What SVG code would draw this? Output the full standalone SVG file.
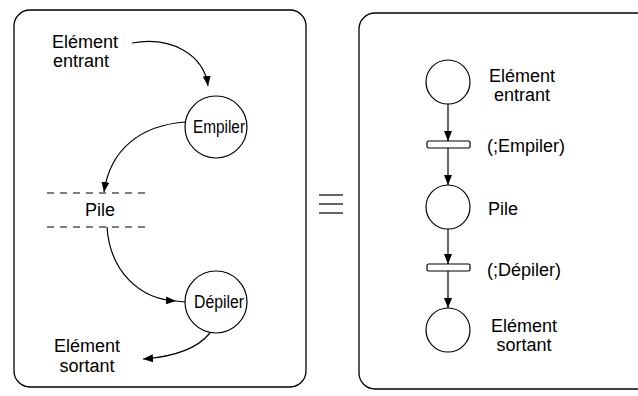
<svg xmlns="http://www.w3.org/2000/svg" width="638" height="396" viewBox="0 0 638 396">
<defs>
<style>
.panel{fill:none;stroke:#000;stroke-width:1.3}
.node{fill:#fff;stroke:#000;stroke-width:1.2}
.bar{fill:#fff;stroke:#000;stroke-width:1.2}
.conn{fill:none;stroke:#000;stroke-width:1.2}
.dash{fill:none;stroke:#000;stroke-width:1.2;stroke-dasharray:7 6}
text{font-family:"Liberation Sans",Arial,sans-serif;font-size:18px;fill:#000}
.c{text-anchor:middle}
</style>
<marker id="ah" viewBox="0 0 10 8" refX="10" refY="4" markerWidth="10" markerHeight="8" markerUnits="userSpaceOnUse" orient="auto">
<path d="M0,0 L10,4 L0,8 z" fill="#000"/>
</marker>
</defs>
<rect class="panel" x="14" y="10" width="292" height="377" rx="16"/>
<rect class="panel" x="359" y="13" width="330" height="376" rx="16"/>
<g id="equiv" class="conn">
<line x1="319" y1="195" x2="343" y2="195"/>
<line x1="319" y1="204" x2="343" y2="204"/>
<line x1="319" y1="213" x2="343" y2="213"/>
</g>
<g id="connectors">
<path class="conn" d="M132,43 C172,36 204,55 208,86" marker-end="url(#ah)"/>
<path class="conn" d="M186,122 C140,125 110,150 104,192" marker-end="url(#ah)"/>
<path class="conn" d="M107,227 C110,272 140,299 176,301" marker-end="url(#ah)"/>
<line class="conn" x1="176" y1="301" x2="185" y2="302"/>
<path class="conn" d="M210,333 C196,350 172,357 143,359" marker-end="url(#ah)"/>
<line class="conn" x1="448" y1="104" x2="448" y2="141" marker-end="url(#ah)"/>
<line class="conn" x1="448" y1="148" x2="448" y2="185" marker-end="url(#ah)"/>
<line class="conn" x1="448" y1="229" x2="448" y2="264" marker-end="url(#ah)"/>
<line class="conn" x1="448" y1="271" x2="448" y2="308" marker-end="url(#ah)"/>
</g>
<g id="entrant-left"><text x="52" y="48">Elément</text><text x="53" y="67">entrant</text></g>
<g id="empiler"><circle class="node" cx="216" cy="127" r="31"/><text class="c" x="219" y="133" textLength="52" lengthAdjust="spacingAndGlyphs">Empiler</text></g>
<g id="pile-left">
<line class="dash" x1="47" y1="193" x2="147" y2="193"/>
<line class="dash" x1="47" y1="227" x2="147" y2="227"/>
<text class="c" x="100" y="216">Pile</text>
</g>
<g id="depiler"><circle class="node" cx="216" cy="302" r="31"/><text class="c" x="219" y="308" textLength="50" lengthAdjust="spacingAndGlyphs">Dépiler</text></g>
<g id="sortant-left"><text class="c" x="87" y="352">Elément</text><text class="c" x="87" y="372">sortant</text></g>
<g id="p-entrant"><circle class="node" cx="448" cy="82" r="22"/><text class="c" x="522" y="82">Elément</text><text class="c" x="522" y="101">entrant</text></g>
<g id="t-empiler"><rect class="bar" x="427" y="141" width="43" height="7" rx="1.5"/><text x="487" y="152">(;Empiler)</text></g>
<g id="p-pile"><circle class="node" cx="448" cy="207" r="22"/><text x="488" y="215">Pile</text></g>
<g id="t-depiler"><rect class="bar" x="427" y="264" width="43" height="7" rx="1.5"/><text x="487" y="276">(;Dépiler)</text></g>
<g id="p-sortant"><circle class="node" cx="448" cy="330" r="22"/><text class="c" x="524" y="332">Elément</text><text class="c" x="524" y="351">sortant</text></g>
</svg>
